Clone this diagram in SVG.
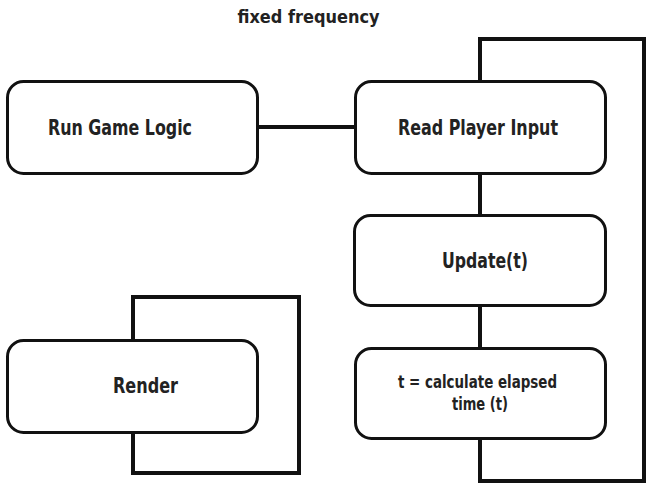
<svg xmlns="http://www.w3.org/2000/svg" width="650" height="487" viewBox="0 0 650 487">
  <style>
    .box { fill: #ffffff; stroke: #111111; stroke-width: 3; }
    .wire { fill: none; stroke: #111111; stroke-width: 4; stroke-linejoin: miter; stroke-linecap: square; }
    .lbl { font-family: "DejaVu Sans Condensed", "Liberation Sans", sans-serif; font-weight: bold; fill: #222222; text-anchor: middle; }
  </style>
  <rect width="650" height="487" fill="#ffffff"/>

  <text class="lbl" x="308.5" y="23" font-size="18" textLength="142" lengthAdjust="spacingAndGlyphs">fixed frequency</text>

  <!-- connectors and loops -->
  <g id="connectors">
    <line class="wire" x1="257" y1="127" x2="355" y2="127"/>
    <path class="wire" d="M480,81 V39 H644 V481 H480 V439"/>
    <line class="wire" x1="480" y1="173" x2="480" y2="215"/>
    <line class="wire" x1="480" y1="306" x2="480" y2="348"/>
    <path class="wire" d="M133,340 V297 H299 V473 H133 V433"/>
  </g>

  <g id="run-game-logic">
    <rect class="box" x="7.5" y="81.5" width="250" height="92" rx="16"/>
    <text class="lbl" x="120" y="135" font-size="21" textLength="144" lengthAdjust="spacingAndGlyphs">Run Game Logic</text>
  </g>

  <g id="read-player-input">
    <rect class="box" x="355.5" y="81.5" width="250" height="92" rx="16"/>
    <text class="lbl" x="478" y="135" font-size="21" textLength="160" lengthAdjust="spacingAndGlyphs">Read Player Input</text>
  </g>

  <g id="update">
    <rect class="box" x="354.5" y="215.5" width="251" height="90" rx="16"/>
    <text class="lbl" x="485" y="268" font-size="21" textLength="86" lengthAdjust="spacingAndGlyphs">Update(t)</text>
  </g>

  <g id="calc-elapsed">
    <rect class="box" x="355.5" y="348.5" width="250" height="90" rx="16"/>
    <text class="lbl" x="477.5" y="388" font-size="18" textLength="159" lengthAdjust="spacingAndGlyphs">t = calculate elapsed</text>
    <text class="lbl" x="480" y="410" font-size="18" textLength="56" lengthAdjust="spacingAndGlyphs">time (t)</text>
  </g>

  <g id="render">
    <rect class="box" x="7.5" y="340.5" width="250" height="92" rx="16"/>
    <text class="lbl" x="145.5" y="393" font-size="21" textLength="65" lengthAdjust="spacingAndGlyphs">Render</text>
  </g>
</svg>
